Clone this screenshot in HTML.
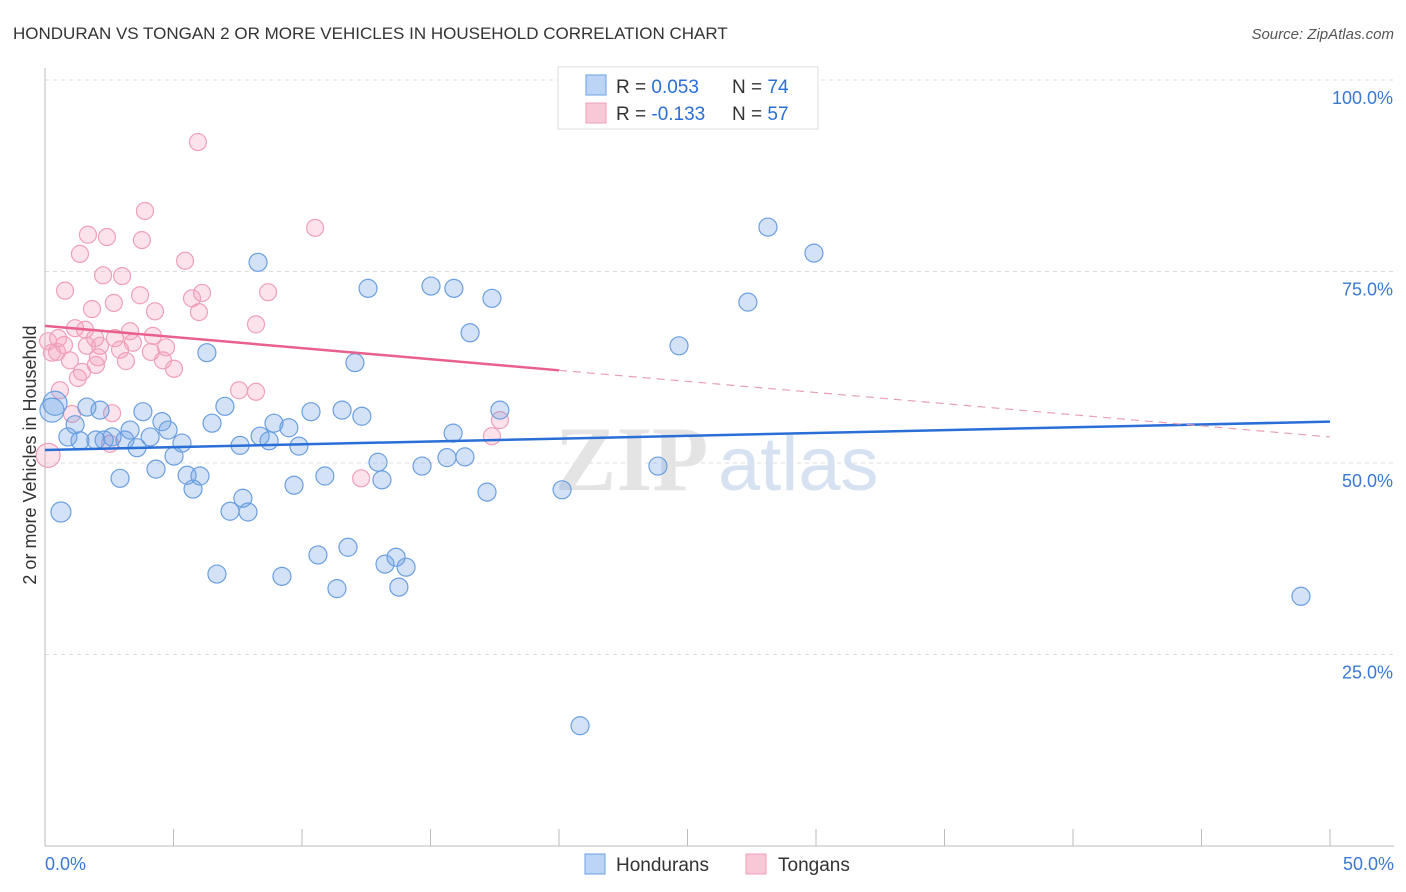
<!DOCTYPE html>
<html><head><meta charset="utf-8">
<style>
body{margin:0;background:#fff;font-family:"Liberation Sans",sans-serif;}
svg{display:block}
</style></head>
<body>
<svg id="chart" width="1406" height="892" xmlns="http://www.w3.org/2000/svg">
<text x="13" y="39" font-size="17" fill="#333">HONDURAN VS TONGAN 2 OR MORE VEHICLES IN HOUSEHOLD CORRELATION CHART</text>
<text x="1394" y="39" font-size="15" fill="#555" text-anchor="end" font-style="italic">Source: ZipAtlas.com</text>
<g id="grid"></g>
<g>
<text x="555" y="490" font-size="92" font-family="Liberation Serif,serif" fill="#e4e4e4" font-weight="bold">ZIP</text>
<text x="718" y="490" font-size="76" fill="#d6e2f2">atlas</text>
</g>
<g id="points"></g>
<g id="trends"></g>
<text x="36" y="455" font-size="18" fill="#333" text-anchor="middle" transform="rotate(-90 36 455)">2 or more Vehicles in Household</text>
<g>
<rect x="558" y="67" width="260" height="62" fill="#fff" stroke="#ddd"/>
<rect x="586" y="75" width="20" height="20" fill="#bcd4f5" stroke="#6a9fe0"/>
<rect x="586" y="103" width="20" height="20" fill="#f9c8d6" stroke="#f0a0b8"/>
<text x="616" y="93" font-size="19" fill="#333">R = <tspan fill="#2a6fd6">0.053</tspan></text>
<text x="732" y="93" font-size="19" fill="#333">N = <tspan fill="#2a6fd6">74</tspan></text>
<text x="616" y="120" font-size="19" fill="#333">R = <tspan fill="#2a6fd6">-0.133</tspan></text>
<text x="732" y="120" font-size="19" fill="#333">N = <tspan fill="#2a6fd6">57</tspan></text>
</g>
<g>
<rect x="585" y="854" width="20" height="20" fill="#bcd4f5" stroke="#6a9fe0"/>
<text x="616" y="871" font-size="19" fill="#333">Hondurans</text>
<rect x="746" y="854" width="20" height="20" fill="#f9c8d6" stroke="#f0a0b8"/>
<text x="778" y="871" font-size="19" fill="#333">Tongans</text>
</g>
</svg>
<script>
const hondX=[0.27,0.39,0.62,0.89,1.17,1.36,1.63,1.98,2.14,2.30,2.61,2.92,3.11,3.31,3.58,3.81,4.09,4.32,4.55,4.79,5.02,5.33,5.53,5.76,6.03,6.30,6.50,6.69,7.00,7.20,7.59,7.70,7.90,8.29,8.37,8.72,8.91,9.22,9.49,9.69,9.88,10.35,10.62,10.89,11.36,11.56,11.79,12.06,12.33,12.57,12.96,13.11,13.23,13.66,13.77,14.05,14.67,15.02,15.64,15.88,15.91,16.34,16.54,17.20,17.39,17.70,20.12,20.82,23.85,24.67,27.35,28.13,29.92,48.87];
const hondY=[56.9,57.8,43.6,53.4,55.0,52.9,57.3,53.0,56.9,53.0,53.4,48.0,53.0,54.3,52.0,56.7,53.4,49.2,55.4,54.3,50.9,52.6,48.4,46.6,48.3,64.4,55.2,35.5,57.4,43.7,52.3,45.4,43.6,76.2,53.5,52.9,55.2,35.2,54.6,47.1,52.2,56.7,38.0,48.3,33.6,56.9,39.0,63.1,56.1,72.8,50.1,47.8,36.8,37.7,33.8,36.4,49.6,73.1,50.7,53.9,72.8,50.8,67.0,46.2,71.5,56.9,46.5,15.7,49.6,65.3,71.0,80.8,77.4,32.6];
const hondR=[12,12,10,9,9,9,9,9,9,9,9,9,9,9,9,9,9,9,9,9,9,9,9,9,9,9,9,9,9,9,9,9,9,9,9,9,9,9,9,9,9,9,9,9,9,9,9,9,9,9,9,9,9,9,9,9,9,9,9,9,9,9,9,9,9,9,9,9,9,9,9,9,9,9];
const tongX=[0.12,0.12,0.27,0.47,0.58,0.78,1.05,1.17,1.28,1.36,1.44,1.63,1.67,1.83,1.95,1.98,2.14,2.26,2.41,2.53,2.61,2.68,2.72,3.00,3.15,3.31,3.42,3.70,3.77,3.89,4.12,4.20,4.28,4.59,4.71,5.02,5.45,5.72,5.95,5.99,6.11,7.55,8.21,8.21,8.68,10.51,12.30,17.39,17.70,0.74,0.97,1.56,2.06,2.92,0.51];
const tongY=[51.0,65.9,64.4,64.5,59.5,72.5,56.4,67.6,61.1,77.3,61.9,65.3,79.8,70.1,66.3,62.8,65.3,74.5,79.5,52.5,56.5,70.9,66.3,74.4,63.3,67.2,65.7,71.9,79.1,82.9,64.5,66.6,69.8,63.4,65.1,62.3,76.4,71.5,91.9,69.7,72.2,59.5,59.3,68.1,72.3,80.7,48.0,53.5,55.6,65.4,63.4,67.4,63.8,64.8,66.3];
const yTicks=[25,50,75,100];
const yTickLabels=["25.0%","50.0%","75.0%","100.0%"];
const xTicks=[0,5,10,15,20,25,30,35,40,45,50];
const hondTrend=[51.7,55.4];
const tongTrend=[67.9,53.4];
const tongSolidEnd=20;

const NS="http://www.w3.org/2000/svg";
const X=v=>45+v*25.7;
const Y=v=>846-v*7.66;
function mk(tag,attrs,parent){const e=document.createElementNS(NS,tag);for(const k in attrs)e.setAttribute(k,attrs[k]);parent.appendChild(e);return e;}
const grid=document.getElementById('grid');
yTicks.forEach((t,i)=>{
  const l=mk('line',{x1:45,x2:1394,y1:Y(t),y2:Y(t),stroke:'#ddd','stroke-dasharray':'4,4'},grid);
  
  
  const tx=mk('text',{x:1393,y:Y(t)+24,'font-size':18,fill:'#3a78d6','text-anchor':'end'},grid);
  tx.textContent=yTickLabels[i];
  
  
});
const ax=mk('line',{x1:45,x2:45,y1:68,y2:846,stroke:'#bbb'},grid);


const bx=mk('line',{x1:45,x2:1394,y1:846,y2:846,stroke:'#bbb'},grid);


xTicks.forEach(t=>{
  const l=mk('line',{x1:X(t),x2:X(t),y1:829,y2:846,stroke:'#bbb'},grid);
  
  
});
const xl0=mk('text',{x:45,y:870,'font-size':18,fill:'#3a78d6'},grid);xl0.textContent='0.0%';


const xl1=mk('text',{x:1394,y:870,'font-size':18,fill:'#3a78d6','text-anchor':'end'},grid);xl1.textContent='50.0%';



const pts=document.getElementById('points');
tongX.forEach((x,i)=>{
  const c=mk('circle',{cx:X(x),cy:Y(tongY[i]),r:i===0?12:8.5,fill:'rgba(244,160,188,0.3)',stroke:'#f0a0b8','stroke-width':1.2},pts);
  
  
});
hondX.forEach((x,i)=>{
  const c=mk('circle',{cx:X(x),cy:Y(hondY[i]),r:hondR[i],fill:'rgba(110,160,230,0.3)',stroke:'#6a9fe0','stroke-width':1.2},pts);
  
  
});
const tr=document.getElementById('trends');
const b=mk('line',{x1:X(0),y1:Y(hondTrend[0]),x2:X(50),y2:Y(hondTrend[1]),stroke:'#2a6fd6','stroke-width':2.5},tr);


const midY=tongTrend[0]+(tongTrend[1]-tongTrend[0])*tongSolidEnd/50;
const p1=mk('line',{x1:X(0),y1:Y(tongTrend[0]),x2:X(tongSolidEnd),y2:Y(midY),stroke:'#e8608c','stroke-width':2.5},tr);


const p2=mk('line',{x1:X(tongSolidEnd),y1:Y(midY),x2:X(50),y2:Y(tongTrend[1]),stroke:'#e8a0b8','stroke-width':1.2,'stroke-dasharray':'8,6'},tr);


</script>
</body></html>
